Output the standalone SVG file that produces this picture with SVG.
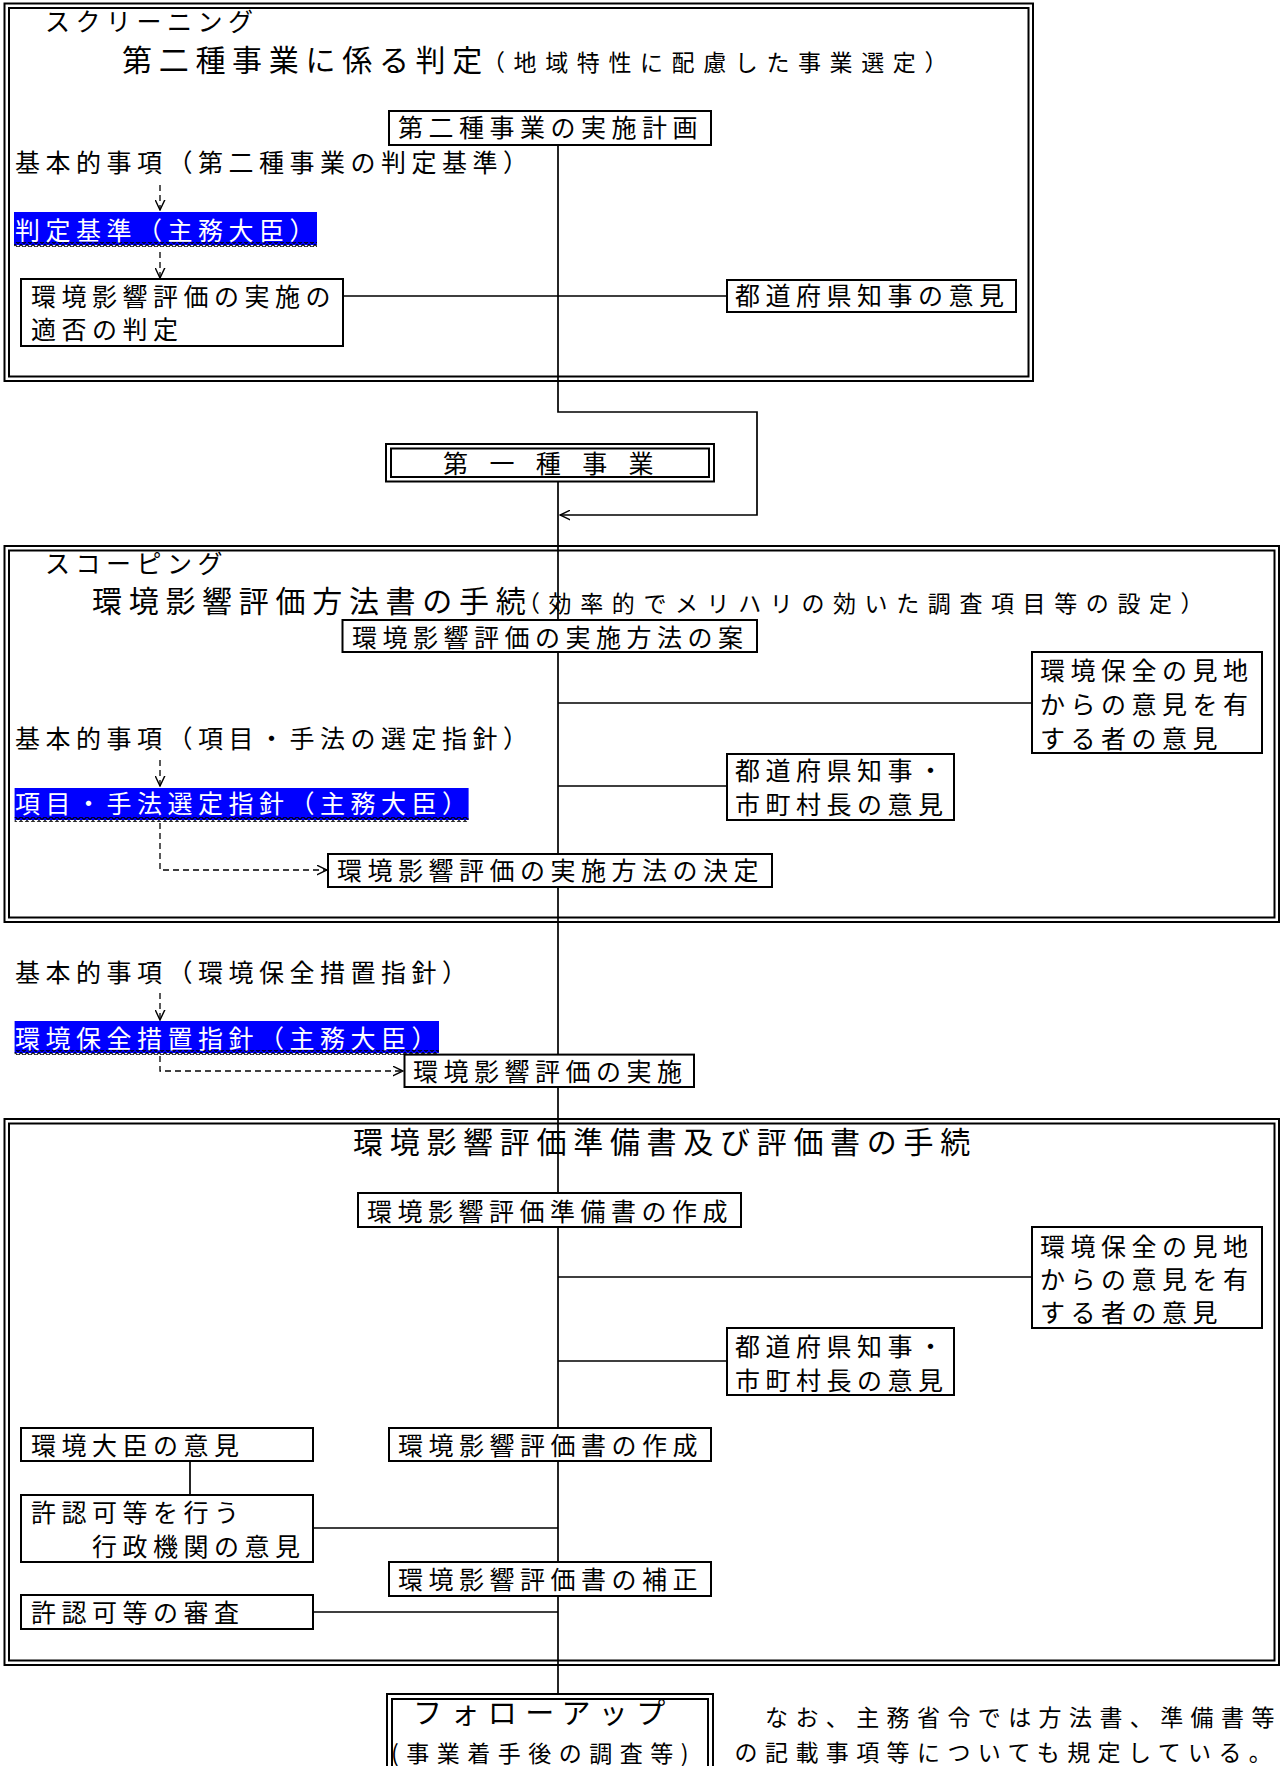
<svg xmlns="http://www.w3.org/2000/svg" width="1281" height="1766" viewBox="0 0 1281 1766">
<style>
text{font-family:"Noto Sans CJK JP","Noto Sans CJK SC",sans-serif;fill:#000}
.t{font-size:25px;letter-spacing:5.5px}
.tt{font-size:30px;letter-spacing:6.7px}
.ts{font-size:23px;letter-spacing:8.6px}
.w{fill:#fff}
.box{fill:#fff;stroke:#000;stroke-width:2}
.frame{fill:none;stroke:#000;stroke-width:2}
.hl{fill:#0000ff}
.conn{fill:none;stroke:#000;stroke-width:1.7}
.dash{fill:none;stroke:#000;stroke-width:1.3;stroke-dasharray:6 4}
</style>
<defs>
<marker id="arr" viewBox="0 0 10 10" refX="9.5" refY="5" markerWidth="11" markerHeight="11" markerUnits="userSpaceOnUse" orient="auto">
<path d="M0,0.5 L9.5,5 L0,9.5" fill="none" stroke="#000" stroke-width="1.3" stroke-dasharray="none"/>
</marker>
<pattern id="wave" x="0" y="0" width="6" height="4" patternUnits="userSpaceOnUse">
<path d="M0,3.5 L3,0.5 L6,3.5" fill="none" stroke="#000" stroke-width="1.1"/>
</pattern>
</defs>

<g id="frame-screening">
<rect class="frame" x="4.5" y="3.5" width="1028.5" height="377.5"/>
<rect class="frame" x="9" y="8" width="1019.5" height="368.5"/>
<text class="t" x="45" y="31">スクリーニング</text>
<text class="tt" x="122" y="71">第二種事業に係る判定</text>
<text class="ts" x="482" y="71">（地域特性に配慮した事業選定）</text>
</g>
<g id="frame-scoping">
<rect class="frame" x="4.5" y="546" width="1274.5" height="376"/>
<rect class="frame" x="9" y="550.5" width="1265.5" height="367"/>
<text class="t" x="45" y="573">スコーピング</text>
<text class="tt" x="92" y="612">環境影響評価方法書の手続</text>
<text class="ts" x="517" y="612">（効率的でメリハリの効いた調査項目等の設定）</text>
</g>
<g id="frame-eis">
<rect class="frame" x="4.5" y="1119" width="1274.5" height="546"/>
<rect class="frame" x="9" y="1123.5" width="1265.5" height="537"/>
<text class="tt" x="353" y="1153">環境影響評価準備書及び評価書の手続</text>
</g>

<g id="connectors">
<path class="conn" d="M558,145 V412 H757 V515 H560" marker-end="url(#arr)"/>
<path class="conn" d="M558,481 V620 M558,652 V854 M558,887 V1054.6 M558,1087 V1193 M558,1227 V1428 M558,1461 V1562 M558,1596 V1693"/>
<path class="conn" d="M343,296 H727 M558,703 H1032 M558,786 H727 M558,1277 H1032 M558,1361 H727 M313,1528 H558 M313,1612 H558 M190,1461 V1495"/>
<path class="dash" d="M160,185 V210" marker-end="url(#arr)"/>
<path class="dash" d="M160,252 V278" marker-end="url(#arr)"/>
<path class="dash" d="M160,760 V786" marker-end="url(#arr)"/>
<path class="dash" d="M160,823 V870 H327" marker-end="url(#arr)"/>
<path class="dash" d="M160,993 V1020" marker-end="url(#arr)"/>
<path class="dash" d="M160,1056 V1071 H403" marker-end="url(#arr)"/>
</g>

<g id="n-plan2">
<rect class="box" x="389" y="111" width="322" height="34"/>
<text class="t" x="398" y="137">第二種事業の実施計画</text>
</g>
<g id="n-basic1">
<text class="t" x="15" y="172">基本的事項（第二種事業の判定基準）</text>
</g>
<g id="n-criteria">
<rect class="hl" x="14" y="212" width="303" height="33"/>
<rect x="14" y="242" width="303" height="5" fill="url(#wave)"/>
<text class="t w" x="15" y="240">判定基準（主務大臣）</text>
</g>
<g id="n-judge">
<rect class="box" x="21" y="279" width="322" height="67"/>
<text class="t" x="31" y="306">環境影響評価の実施の</text>
<text class="t" x="31" y="339">適否の判定</text>
</g>
<g id="n-gov1">
<rect class="box" x="727" y="280" width="289" height="32"/>
<text class="t" x="735" y="305">都道府県知事の意見</text>
</g>
<g id="n-type1">
<rect class="box" x="386" y="444" width="328" height="37.5"/>
<rect class="frame" x="391" y="448.5" width="318" height="28.5"/>
<text class="t" x="443" y="473" style="letter-spacing:-1.8px">第　一　種　事　業</text>
</g>
<g id="n-draft">
<rect class="box" x="342.5" y="620" width="414.5" height="32"/>
<text class="t" x="352" y="647">環境影響評価の実施方法の案</text>
</g>
<g id="n-public1">
<rect class="box" x="1032" y="652" width="230" height="101"/>
<text class="t" x="1040" y="680">環境保全の見地</text>
<text class="t" x="1040" y="714">からの意見を有</text>
<text class="t" x="1040" y="748">する者の意見</text>
</g>
<g id="n-gov2">
<rect class="box" x="727" y="754" width="227" height="66"/>
<text class="t" x="735" y="780">都道府県知事・</text>
<text class="t" x="735" y="814">市町村長の意見</text>
</g>
<g id="n-basic2">
<text class="t" x="15" y="748">基本的事項（項目・手法の選定指針）</text>
</g>
<g id="n-guide2">
<rect class="hl" x="14.6" y="788" width="454" height="32"/>
<rect x="14.6" y="817" width="454" height="5" fill="url(#wave)"/>
<text class="t w" x="15" y="813">項目・手法選定指針（主務大臣）</text>
</g>
<g id="n-decide">
<rect class="box" x="328" y="854" width="444" height="33"/>
<text class="t" x="337" y="880">環境影響評価の実施方法の決定</text>
</g>
<g id="n-basic3">
<text class="t" x="15" y="982">基本的事項（環境保全措置指針）</text>
</g>
<g id="n-guide3">
<rect class="hl" x="14.6" y="1021" width="424.4" height="32"/>
<rect x="14.6" y="1050" width="424.4" height="5" fill="url(#wave)"/>
<text class="t w" x="15" y="1048">環境保全措置指針（主務大臣）</text>
</g>
<g id="n-exec">
<rect class="box" x="404.5" y="1054.6" width="289.5" height="32.4"/>
<text class="t" x="413" y="1081">環境影響評価の実施</text>
</g>
<g id="n-prep">
<rect class="box" x="358" y="1193" width="383" height="34"/>
<text class="t" x="367" y="1221">環境影響評価準備書の作成</text>
</g>
<g id="n-public2">
<rect class="box" x="1032" y="1227" width="230" height="101"/>
<text class="t" x="1040" y="1256">環境保全の見地</text>
<text class="t" x="1040" y="1289">からの意見を有</text>
<text class="t" x="1040" y="1322">する者の意見</text>
</g>
<g id="n-gov3">
<rect class="box" x="727" y="1328" width="227" height="67"/>
<text class="t" x="735" y="1356">都道府県知事・</text>
<text class="t" x="735" y="1390">市町村長の意見</text>
</g>
<g id="n-minister">
<rect class="box" x="21" y="1428" width="292" height="33"/>
<text class="t" x="31" y="1455">環境大臣の意見</text>
</g>
<g id="n-report">
<rect class="box" x="389" y="1428" width="322" height="33"/>
<text class="t" x="398" y="1455">環境影響評価書の作成</text>
</g>
<g id="n-agency">
<rect class="box" x="21" y="1495" width="292" height="67"/>
<text class="t" x="31" y="1522">許認可等を行う</text>
<text class="t" x="92" y="1556">行政機関の意見</text>
</g>
<g id="n-amend">
<rect class="box" x="389" y="1562" width="322" height="34"/>
<text class="t" x="398" y="1589">環境影響評価書の補正</text>
</g>
<g id="n-review">
<rect class="box" x="21" y="1595" width="292" height="34"/>
<text class="t" x="31" y="1622">許認可等の審査</text>
</g>
<g id="n-followup">
<rect class="box" x="387" y="1694" width="326" height="100"/>
<rect class="frame" x="392" y="1699" width="316" height="100"/>
<text class="tt" x="413" y="1724" style="font-size:29px;letter-spacing:8.4px">フォローアップ</text>
<text class="ts" x="391" y="1762" style="font-size:23px;letter-spacing:7.5px">(事業着手後の調査等)</text>
</g>
<g id="note">
<text class="t" x="734.6" y="1726" style="font-size:23px;letter-spacing:7.4px">　なお、主務省令では方法書、準備書等</text>
<text class="t" x="734.6" y="1761" style="font-size:23px;letter-spacing:7.4px">の記載事項等についても規定している。</text>
</g>
</svg>
